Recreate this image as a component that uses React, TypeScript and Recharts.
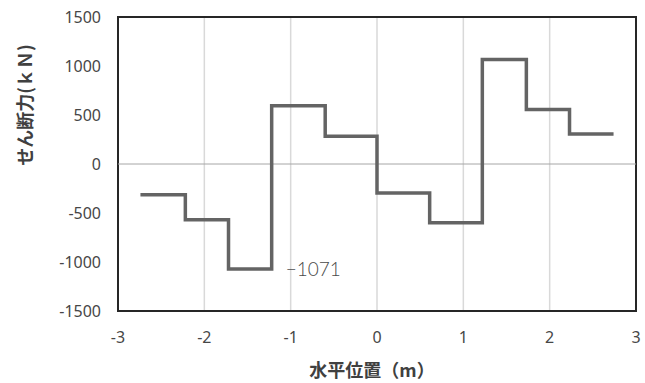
import React from 'react';
import {
  LineChart,
  Line,
  XAxis,
  YAxis,
  CartesianGrid,
  ReferenceLine,
  ReferenceArea,
  ReferenceDot,
} from 'recharts';

// Breakpoints along the horizontal position (m)
const positions = [-2.74, -2.22, -1.72, -1.22, -0.6, 0, 0.61, 1.22, 1.73, 2.23, 2.74];
// Shear force (kN) on the segment starting at each breakpoint (last repeats to close the step)
const shear = [-315, -568, -1071, 595, 283, -296, -600, 1067, 557, 306, 306];
const xTicks = [-3, -2, -1, 0, 1, 2, 3];
const yTicks = [-1500, -1000, -500, 0, 500, 1000, 1500];
const minLabel = '\u22121071';
const minValue = -1071;
const minLabelAt = -1.22;

const data = positions.map((x, i) => ({ x, v: shear[i] }));

const tickStyle = { fill: '#474747', fontSize: 16, fontFamily: '"Noto Sans", sans-serif' };
const titleFont = '"Noto Sans CJK JP", sans-serif';

export default function App() {
  return (
    <div style={{ position: 'absolute', left: 0, top: 0, background: '#fff' }}>
      <LineChart
        width={645}
        height={383}
        data={data}
        margin={{ top: 17, right: 9, bottom: 0, left: 0 }}
      >
        <CartesianGrid horizontal={false} stroke="#d9d9d9" strokeWidth={1.5} />
        <XAxis
          type="number"
          dataKey="x"
          domain={[-3, 3]}
          ticks={xTicks}
          height={72}
          tickLine={false}
          axisLine={false}
          tickSize={0}
          tickMargin={21}
          tick={tickStyle}
          label={{
            content: () => (
              <text
                x={372}
                y={377}
                textAnchor="middle"
                fill="#404040"
                fontSize={18}
                fontWeight="bold"
                fontFamily={titleFont}
              >
                水平位置（m）
              </text>
            ),
          }}
        />
        <YAxis
          type="number"
          domain={[-1500, 1500]}
          ticks={yTicks}
          width={118}
          tickLine={false}
          axisLine={false}
          tickSize={0}
          tickMargin={17}
          tick={tickStyle}
          label={{
            content: () => (
              <text
                x={32}
                y={105}
                textAnchor="middle"
                transform="rotate(-90 32 105)"
                fill="#404040"
                fontSize={18}
                fontWeight="bold"
                fontFamily={titleFont}
              >
                せん断力(ｋＮ)
              </text>
            ),
          }}
        />
        <ReferenceLine y={0} stroke="#a6a6a6" strokeWidth={1} />
        <ReferenceArea
          x1={-3}
          x2={3}
          y1={-1500}
          y2={1500}
          fill="none"
          fillOpacity={0}
          stroke="#262626"
          strokeWidth={2}
        />
        <Line
          type="stepAfter"
          dataKey="v"
          stroke="#646464"
          strokeWidth={3.5}
          dot={false}
          isAnimationActive={false}
        />
        <ReferenceDot
          x={minLabelAt}
          y={minValue}
          r={1}
          fill="none"
          stroke="none"
          label={{
            value: minLabel,
            position: 'right',
            offset: 13,
            fill: '#4a4a4a',
            fontSize: 19,
            fontWeight: 300,
            fontFamily: 'Lato, sans-serif',
          }}
        />
      </LineChart>
    </div>
  );
}
